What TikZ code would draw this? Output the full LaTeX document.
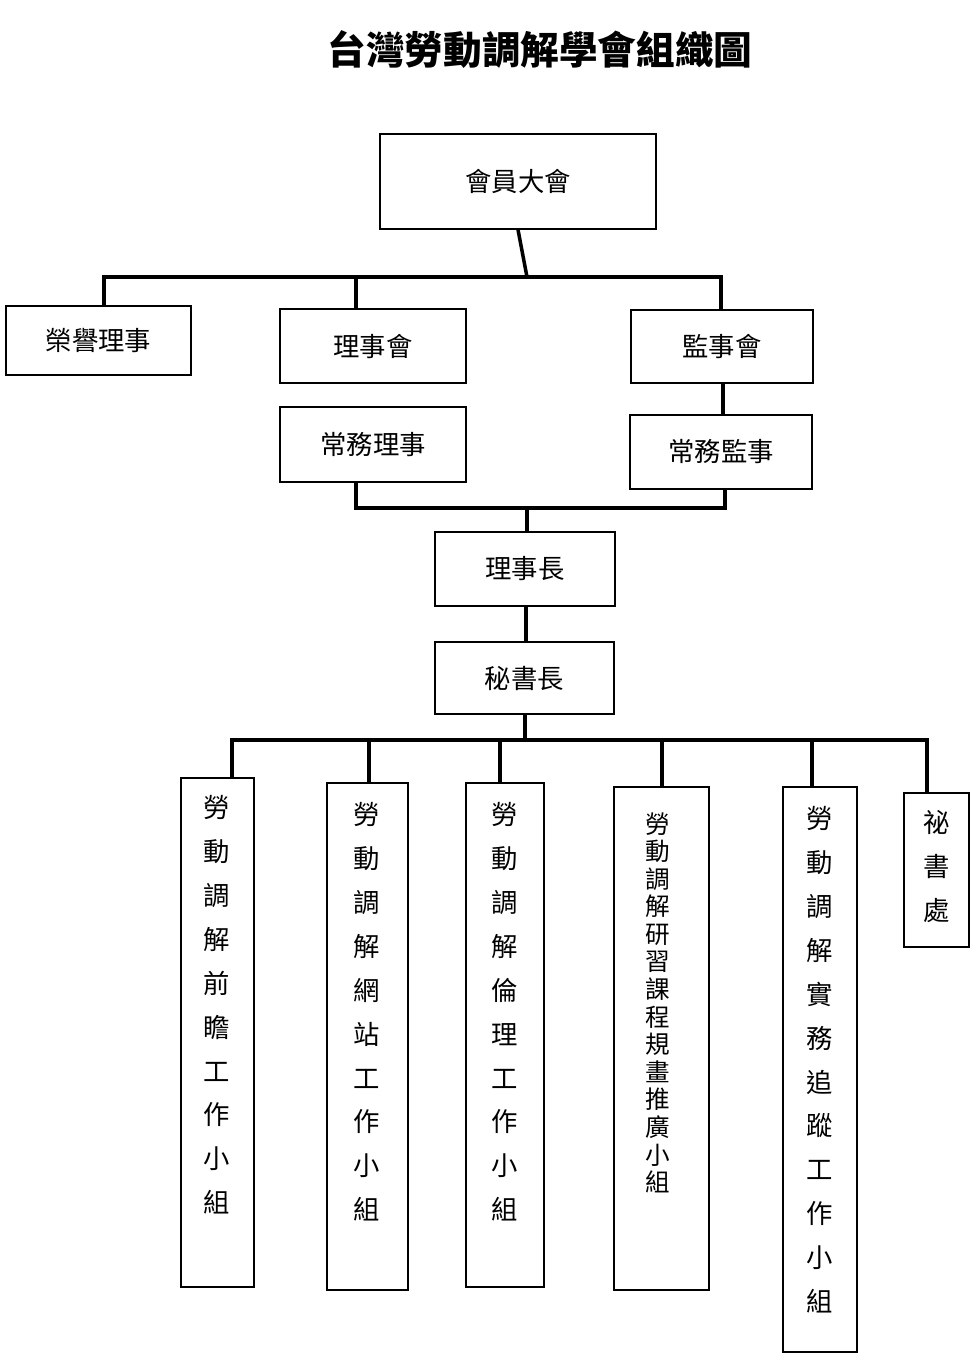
\documentclass[tikz,border=0pt]{standalone}
\usepackage{fontspec}
\setmainfont{Noto Sans CJK TC}
\usetikzlibrary{positioning,calc}
\tikzset{
    unit/.style={draw, line width=0.8pt, inner sep=0pt, font=\fontsize{15}{18}\selectfont},
    vlabel/.style={anchor=north, align=center, inner sep=0pt, font=\fontsize{15}{25}\selectfont},
    link/.style={line width=2pt}
}
% box from pixel corners: name, x1, y1, x2, y2, text
\newcommand{\orgbox}[6]{%
  \node[unit, minimum width={(#4-#2)*0.02cm}, minimum height={(#5-#3)*0.02cm}]
    (#1) at ({(#2+#4)/2}, {(#3+#5)/2}) {#6};}

\begin{document}
\begin{tikzpicture}[x=0.02cm, y=-0.02cm]
    \useasboundingbox (0,0) rectangle (976,1360);
    \node[font=\fontsize{22}{26}\selectfont\bfseries] (title) at (540,50) {台灣勞動調解學會組織圖};

    \orgbox{general}{380}{134}{656}{229}{會員大會}
    \orgbox{honor}{6}{306}{191}{375}{榮譽理事}
    \orgbox{board}{280}{309}{466}{383}{理事會}
    \orgbox{stdir}{280}{407}{466}{482}{常務理事}
    \orgbox{superv}{631}{310}{813}{383}{監事會}
    \orgbox{stsup}{630}{415}{812}{489}{常務監事}
    \orgbox{chair}{435}{532}{615}{606}{理事長}
    \orgbox{secgen}{435}{642}{614}{714}{秘書長}

    \orgbox{gA}{181}{778}{254}{1287}{}
    \orgbox{gB}{327}{783}{408}{1290}{}
    \orgbox{gC}{466}{783}{544}{1287}{}
    \orgbox{gD}{614}{787}{709}{1290}{}
    \orgbox{gE}{783}{787}{857}{1352}{}
    \orgbox{gF}{904}{793}{969}{947}{}

    \node[vlabel] (tA) at (217,795) {勞\\動\\調\\解\\前\\瞻\\工\\作\\小\\組};
    \node[vlabel] (tB) at (367,802) {勞\\動\\調\\解\\網\\站\\工\\作\\小\\組};
    \node[vlabel] (tC) at (505,802) {勞\\動\\調\\解\\倫\\理\\工\\作\\小\\組};
    \node[vlabel, font=\fontsize{14}{15.7}\selectfont] (tD) at (658,812) {勞\\動\\調\\解\\研\\習\\課\\程\\規\\畫\\推\\廣\\小\\組};
    \node[vlabel] (tE) at (820,806) {勞\\動\\調\\解\\實\\務\\追\\蹤\\工\\作\\小\\組};
    \node[vlabel] (tF) at (937,810) {祕\\書\\處};

    % top level
    \coordinate (topbar) at (527,277);
    \draw[link] (general.south) -- (topbar);
    \draw[link] (honor.north -| 104,0) |- (topbar) -| (superv.north -| 721,0);
    \draw[link] (board.north -| 356,0) -- (356,277);
    \draw[link] (superv.south -| 723,0) -- (stsup.north -| 723,0);

    % standing members to chair
    \draw[link] (stdir.south -| 356,0) |- (725,508) -- (stsup.south -| 725,0);
    \draw[link] (chair.north -| 527,0) -- (527,508);
    \draw[link] (chair.south -| 526,0) -- (secgen.north -| 526,0);

    % working groups
    \draw[link] (secgen.south -| 525,0) -- (525,740);
    \draw[link] (gA.north -| 232,0) |- (927,740) -- (gF.north -| 927,0);
    \foreach \gx/\g in {369/gB, 500/gC, 662/gD, 812/gE}
        \draw[link] (\g.north -| \gx,0) -- (\gx,740);
\end{tikzpicture}
\end{document}
